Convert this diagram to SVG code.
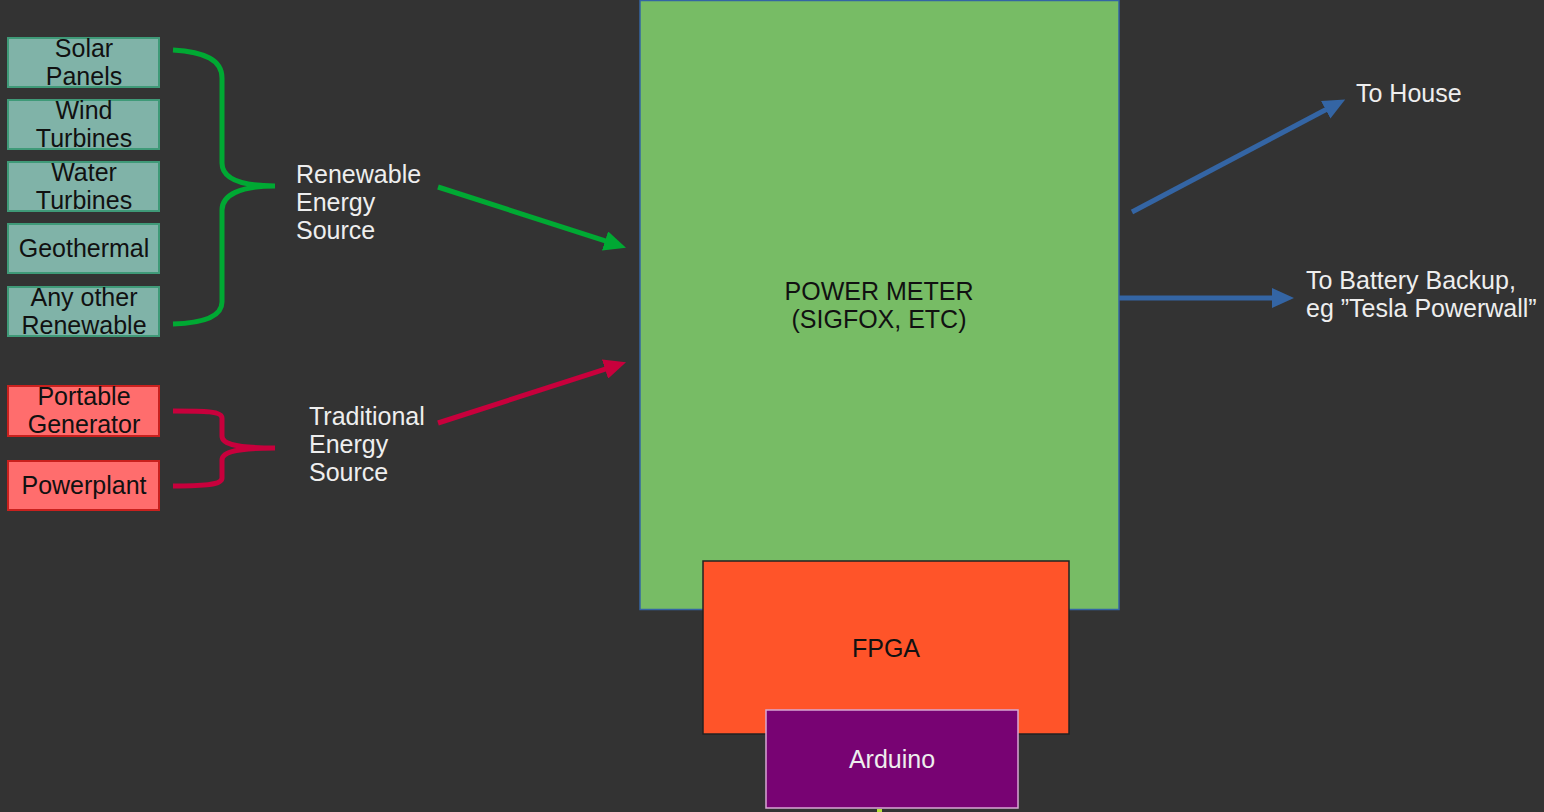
<svg xmlns="http://www.w3.org/2000/svg" width="1544" height="812" viewBox="0 0 1544 812">
<style>
text{font-family:"Liberation Sans",Arial,sans-serif;font-size:25px}
.dk{fill:#111111}
.lt{fill:#eeeeee}
.c{text-anchor:middle}
.ren{fill:#80b3a8;stroke:#3f9a78;stroke-width:2}
.trad{fill:#ff6d6d;stroke:#c9211e;stroke-width:2}
.conn{fill:none;stroke-width:5}
</style>
<defs>
<marker id="ag" viewBox="0 -10 22 20" markerWidth="22" markerHeight="20" refX="1" refY="0" markerUnits="userSpaceOnUse" orient="auto"><path d="M0,-10 L22,0 L0,10 Z" fill="#00a933"/></marker>
<marker id="ar" viewBox="0 -10 22 20" markerWidth="22" markerHeight="20" refX="1" refY="0" markerUnits="userSpaceOnUse" orient="auto"><path d="M0,-10 L22,0 L0,10 Z" fill="#c8003c"/></marker>
<marker id="ab" viewBox="0 -10 22 20" markerWidth="22" markerHeight="20" refX="1" refY="0" markerUnits="userSpaceOnUse" orient="auto"><path d="M0,-10 L22,0 L0,10 Z" fill="#3465a4"/></marker>
</defs>
<rect x="0" y="0" width="1544" height="812" fill="#333333"/>

<g id="powermeter">
<rect x="640" y="0.5" width="479" height="609" fill="#77bc65" stroke="#3465a4" stroke-width="1.5"/>
<text class="dk c" x="879" y="300">POWER METER</text>
<text class="dk c" x="879" y="328">(SIGFOX, ETC)</text>
</g>
<g id="fpga">
<rect x="703" y="561" width="366" height="173" fill="#ff5429" stroke="#222222" stroke-width="1.5"/>
<text class="dk c" x="886" y="657">FPGA</text>
</g>
<g id="arduino">
<rect x="766" y="710" width="252" height="98" fill="#780373" stroke="#d8a8d4" stroke-width="1.5"/>
<text class="lt c" x="892" y="768">Arduino</text>
<rect x="877" y="809" width="5" height="3" fill="#b8e03c"/>
</g>

<g id="solar"><rect class="ren" x="8" y="38" width="151" height="49"/><text class="dk c" x="84" y="57">Solar</text><text class="dk c" x="84" y="85">Panels</text></g>
<g id="wind"><rect class="ren" x="8" y="100" width="151" height="49"/><text class="dk c" x="84" y="119">Wind</text><text class="dk c" x="84" y="147">Turbines</text></g>
<g id="water"><rect class="ren" x="8" y="162" width="151" height="49"/><text class="dk c" x="84" y="181">Water</text><text class="dk c" x="84" y="209">Turbines</text></g>
<g id="geothermal"><rect class="ren" x="8" y="224" width="151" height="49"/><text class="dk c" x="84" y="257">Geothermal</text></g>
<g id="other"><rect class="ren" x="8" y="287" width="151" height="49"/><text class="dk c" x="84" y="306">Any other</text><text class="dk c" x="84" y="334">Renewable</text></g>
<g id="portable"><rect class="trad" x="8" y="386" width="151" height="50"/><text class="dk c" x="84" y="405">Portable</text><text class="dk c" x="84" y="433">Generator</text></g>
<g id="powerplant"><rect class="trad" x="8" y="461" width="151" height="49"/><text class="dk c" x="84" y="494">Powerplant</text></g>

<g id="renewable-label"><text class="lt" x="296" y="183">Renewable</text><text class="lt" x="296" y="211">Energy</text><text class="lt" x="296" y="239">Source</text></g>
<g id="traditional-label"><text class="lt" x="309" y="425">Traditional</text><text class="lt" x="309" y="453">Energy</text><text class="lt" x="309" y="481">Source</text></g>
<g id="house-label"><text class="lt" x="1356" y="102">To House</text></g>
<g id="battery-label"><text class="lt" x="1306" y="289">To Battery Backup,</text><text class="lt" x="1306" y="317">eg ”Tesla Powerwall”</text></g>

<g id="connectors">
<path class="conn" stroke="#00a933" d="M173,50 C205,52 222,60 222,78 L222,163 C222,178 240,186 275,186 C240,186 222,195 222,210 L222,302 C222,316 205,323 173,324"/>
<path class="conn" stroke="#c8003c" d="M173,411 C205,411 222,411 222,418 L222,436 C222,445 240,448 275,448 C240,448 222,451 222,460 L222,478 C222,485 205,486 173,486"/>
<line class="conn" stroke="#00a933" x1="438" y1="187" x2="606" y2="241.2" marker-end="url(#ag)"/>
<line class="conn" stroke="#c8003c" x1="438" y1="423" x2="606" y2="368.8" marker-end="url(#ar)"/>
<line class="conn" stroke="#3465a4" x1="1132" y1="212" x2="1326.6" y2="109.3" marker-end="url(#ab)"/>
<line class="conn" stroke="#3465a4" x1="1119" y1="298" x2="1273" y2="298" marker-end="url(#ab)"/>
</g>
</svg>
